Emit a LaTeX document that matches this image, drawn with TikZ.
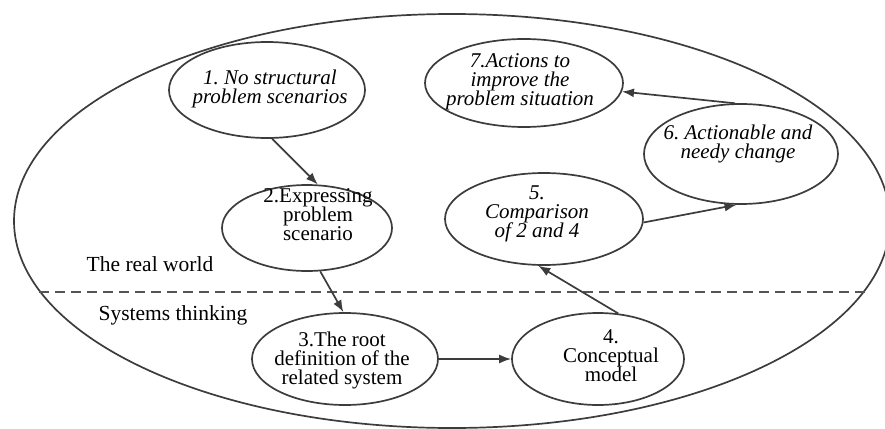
\documentclass[tikz,border=0pt]{standalone}
\usepackage{fontspec}
\setmainfont{Liberation Serif}
\usetikzlibrary{shapes.geometric,arrows.meta}
\definecolor{linegray}{HTML}{3C3C3C}
\definecolor{dashgray}{HTML}{555555}
\frenchspacing
\newcommand{\boxfont}{\fontsize{10.5}{9.5}\selectfont\lineskiplimit=-\maxdimen\lineskip=0pt}
\begin{document}
\begin{tikzpicture}[x=0.5pt,y=-0.5pt,
  ell/.style={draw=linegray,line width=0.85pt,ellipse,inner sep=0pt},
  txt/.style={align=center,font=\boxfont,text=black,inner sep=0pt},
  ittxt/.style={align=center,font=\boxfont\itshape,text=black,inner sep=0pt},
  lbl/.style={font=\fontsize{10.75}{12}\selectfont,text=black,inner sep=0pt,anchor=base},
  arr/.style={draw=linegray,line width=0.85pt,-{Latex[length=6pt,width=4.5pt]}},
  sep/.style={draw=dashgray,line width=0.85pt,dash pattern=on 5pt off 3pt}]
\useasboundingbox (0,0) rectangle (885,429);
% outer ellipse
\node[ell,minimum width=438pt,minimum height=207pt] (world) at (452,221) {};
% inner ellipses
\node[ell,minimum width=98pt,minimum height=48pt] (n1) at (267,90) {};
\node[ell,minimum width=99pt,minimum height=44pt] (n7) at (524,83) {};
\node[ell,minimum width=97pt,minimum height=50pt] (n6) at (741,154) {};
\node[ell,minimum width=85pt,minimum height=43pt] (n2) at (307,228) {};
\node[ell,minimum width=99pt,minimum height=46pt] (n5) at (544,219) {};
\node[ell,minimum width=93pt,minimum height=46pt] (n3) at (345,359) {};
\node[ell,minimum width=86pt,minimum height=46pt] (n4) at (598,359) {};
% texts
\node[ittxt] (t1) at (270,88.5) {1. No structural\\problem scenarios};
\node[ittxt] (t7) at (520,82) {7.Actions to\\improve the\\problem situation};
\node[ittxt] (t6) at (738,143.5) {6. Actionable and\\needy change};
\node[txt] (t2) at (318,215) {2.Expressing\\problem\\scenario};
\node[ittxt] (t5) at (537,214) {5.\\Comparison\\of 2 and 4};
\node[txt] (t3) at (342,360) {3.The root\\definition of the\\related system};
\node[txt] (t4) at (611,356) {4.\\Conceptual\\model};
% region labels
\node[lbl] (rw) at (150,271) {The real world};
\node[lbl] (st) at (173,320) {Systems thinking};
% separator
\coordinate (dl) at (39,292);
\coordinate (dr) at (866,292);
\draw[sep] (dl) -- (dr);
% arrows
\draw[arr] (n1.-84) -- (n2.76);
\draw[arr] (n2.-73) -- (n3.92);
\draw[arr] (n3.east) -- (n4.west);
\draw[arr] (n4.66) -- (n5.-97);
\draw[arr] (n5.-2) -- (n6.-95);
\draw[arr] (n6.97) -- (n7.-5);
\end{tikzpicture}
\end{document}
